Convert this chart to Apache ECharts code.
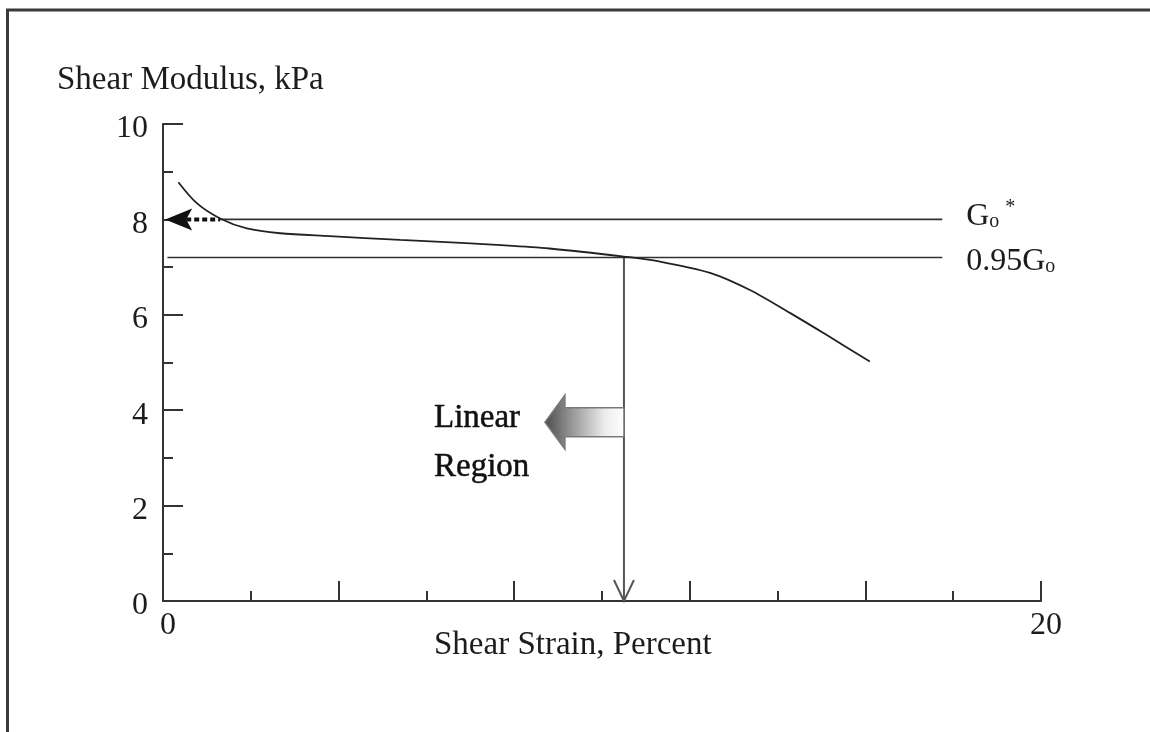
<!DOCTYPE html>
<html>
<head>
<meta charset="utf-8">
<script src="https://cdn.jsdelivr.net/npm/echarts@6/dist/echarts.min.js"></script>
<style>
  html, body { margin: 0; padding: 0; background: #fff; }
  #chart { width: 1150px; height: 732px; }
</style>
</head>
<body>
<div id="chart"></div>
<script>
// Shear modulus vs. shear strain curve
const strainPct = [0.35, 0.77, 1.3, 1.91, 2.67, 3.8, 5.4, 6.1, 7.7, 8.8, 10.5, 11.3, 12.46, 13.37, 14.28, 15.13, 16.1];
const modulusKPa = [8.78, 8.34, 8.02, 7.81, 7.71, 7.65, 7.57, 7.54, 7.46, 7.39, 7.22, 7.12, 6.88, 6.52, 6.04, 5.57, 5.02];

// Reference levels
const g0Level = 8;          // G0*
const g095Level = 7.2;      // 0.95 G0
const g0LineX = [1.3, 17.75];
const g095LineX = [0.1, 17.75];

// Strain where the curve drops to 0.95 G0
const linearLimitStrain = 10.5;
// "Linear Region" arrow: tip strain, tail strain, modulus level
const regionArrow = [8.7, 10.5, 3.75];
// Dotted arrow pointing at G0 on the axis: tip strain, tail strain
const g0Arrow = [0.05, 1.3];

// Axis ranges and tick labels
const xMin = 0, xMax = 20, xStep = 4;
const yMin = 0, yMax = 10, yStep = 2;
const xTickLabels = [0, 20];

const FONT = "'Liberation Serif', 'Times New Roman', serif";
const INK = '#1c1c1c';
const AXIS = '#333';

const chart = echarts.init(document.getElementById('chart'));

chart.setOption({
  backgroundColor: '#ffffff',
  animation: false,
  grid: { left: 163, right: 109, top: 124, bottom: 131, containLabel: false },
  xAxis: {
    type: 'value', min: xMin, max: xMax, interval: xStep,
    axisLine: { show: true, lineStyle: { color: AXIS, width: 2 } },
    axisTick: { show: true, inside: true, length: 20, lineStyle: { color: AXIS, width: 2 } },
    minorTick: { show: true, splitNumber: 2, length: 10, lineStyle: { color: AXIS, width: 2 } },
    splitLine: { show: false },
    axisLabel: {
      customValues: xTickLabels,
      margin: 9, padding: [0, 0, 0, 10],
      color: INK, fontFamily: FONT, fontSize: 32
    }
  },
  yAxis: {
    type: 'value', min: yMin, max: yMax, interval: yStep,
    axisLine: { show: true, lineStyle: { color: AXIS, width: 2 } },
    axisTick: { show: true, inside: true, length: 20, lineStyle: { color: AXIS, width: 2 } },
    minorTick: { show: true, splitNumber: 2, length: 10, lineStyle: { color: AXIS, width: 2 } },
    splitLine: { show: false },
    axisLabel: {
      margin: 15, color: INK, fontFamily: FONT, fontSize: 32,
      formatter: v => '{v|' + v + '}',
      rich: { v: { fontFamily: FONT, fontSize: 32, color: INK, padding: [10, 0, 0, 0] } }
    }
  },
  graphic: [
    // frame around the figure
    { type: 'polyline', shape: { points: [[7.5, 760], [7.5, 10], [1200, 10]] },
      style: { stroke: '#3a3a3a', lineWidth: 3, fill: null }, silent: true },
    { type: 'text', x: 57, y: 80,
      style: { text: 'Shear Modulus, kPa', fontFamily: FONT, fontSize: 33, fill: INK, align: 'left', verticalAlign: 'middle' } },
    { type: 'text', x: 434, y: 645,
      style: { text: 'Shear Strain, Percent', fontFamily: FONT, fontSize: 33, fill: INK, align: 'left', verticalAlign: 'middle' } },
    { type: 'text', x: 434, y: 418,
      style: { text: 'Linear', fontFamily: FONT, fontSize: 33, fill: '#111', align: 'left', verticalAlign: 'middle',
               stroke: '#111', lineWidth: 0.5 } },
    { type: 'text', x: 434, y: 467,
      style: { text: 'Region', fontFamily: FONT, fontSize: 33, fill: '#111', align: 'left', verticalAlign: 'middle',
               stroke: '#111', lineWidth: 0.5 } }
  ],
  series: [
    {
      name: 'G0', type: 'line', silent: true, symbol: 'none',
      data: g0LineX.map(x => [x, g0Level]),
      lineStyle: { color: '#333', width: 1.6 },
      endLabel: {
        show: true, distance: 24, offset: [0, 2],
        formatter: '{g|G}{sub|o}{sup|*}',
        rich: {
          g: { fontFamily: FONT, fontSize: 32, color: INK, padding: [0, 0, 9, 0] },
          sub: { fontFamily: FONT, fontSize: 20, color: INK },
          sup: { fontFamily: FONT, fontSize: 20, color: INK, padding: [0, 0, 28, 6] }
        }
      }
    },
    {
      name: '0.95G0', type: 'line', silent: true, symbol: 'none',
      data: g095LineX.map(x => [x, g095Level]),
      lineStyle: { color: '#333', width: 1.6 },
      endLabel: {
        show: true, distance: 24, offset: [0, 9],
        formatter: '{g|0.95G}{sub|o}',
        rich: {
          g: { fontFamily: FONT, fontSize: 32, color: INK, padding: [0, 0, 9, 0] },
          sub: { fontFamily: FONT, fontSize: 20, color: INK }
        }
      }
    },
    {
      name: 'Shear modulus', type: 'line', silent: true, symbol: 'none',
      smooth: 0.3,
      data: strainPct.map((x, i) => [x, modulusKPa[i]]),
      lineStyle: { color: '#222', width: 1.8 }
    },
    {
      // vertical drop from the 0.95 G0 intersection to the strain axis, open arrowhead
      type: 'custom', silent: true, clip: false,
      data: [[linearLimitStrain, g095Level, 0]],
      renderItem: function (params, api) {
        const top = api.coord([api.value(0), api.value(1)]);
        const bot = api.coord([api.value(0), api.value(2)]);
        return {
          type: 'group', children: [
            { type: 'line', shape: { x1: top[0], y1: top[1], x2: bot[0], y2: bot[1] },
              style: { stroke: '#555', lineWidth: 2 } },
            { type: 'polyline', shape: { points: [[bot[0] - 10, bot[1] - 21], [bot[0], bot[1]], [bot[0] + 10, bot[1] - 21]] },
              style: { stroke: '#555', lineWidth: 2, fill: null } }
          ]
        };
      }
    },
    {
      // shaded block arrow marking the linear region
      type: 'custom', silent: true, clip: false,
      data: [regionArrow],
      renderItem: function (params, api) {
        const tip = api.coord([api.value(0), api.value(2)]);
        const tail = api.coord([api.value(1), api.value(2)]);
        const cy = tip[1], tx = tip[0], ex = tail[0];
        const sh = 14.5, hh = 27, hl = 20;
        return {
          type: 'polygon',
          shape: { points: [
            [ex, cy - sh], [tx + hl, cy - sh], [tx + hl, cy - hh], [tx, cy],
            [tx + hl, cy + hh], [tx + hl, cy + sh], [ex, cy + sh]
          ] },
          style: {
            fill: new echarts.graphic.LinearGradient(0, 0, 1, 0, [
              { offset: 0, color: '#4a4a4a' },
              { offset: 0.3, color: '#8e8e8e' },
              { offset: 0.75, color: '#ececec' },
              { offset: 1, color: '#ffffff' }
            ]),
            stroke: '#7a7a7a', lineWidth: 1.5
          }
        };
      }
    },
    {
      // dotted arrow pointing to G0 on the modulus axis
      type: 'custom', silent: true, clip: false,
      data: [[g0Arrow[0], g0Arrow[1], g0Level]],
      renderItem: function (params, api) {
        const tip = api.coord([api.value(0), api.value(2)]);
        const tail = api.coord([api.value(1), api.value(2)]);
        const cy = tip[1], tx = tip[0];
        const hl = 27, hh = 11;
        return {
          type: 'group', children: [
            { type: 'polygon', shape: { points: [[tx, cy], [tx + hl, cy - hh], [tx + hl - 6, cy], [tx + hl, cy + hh]] },
              style: { fill: '#111' } },
            { type: 'line', shape: { x1: tx + hl - 6, y1: cy, x2: tail[0], y2: cy },
              style: { stroke: '#111', lineWidth: 4, lineDash: [5, 3] } }
          ]
        };
      }
    }
  ]
});
</script>
</body>
</html>
